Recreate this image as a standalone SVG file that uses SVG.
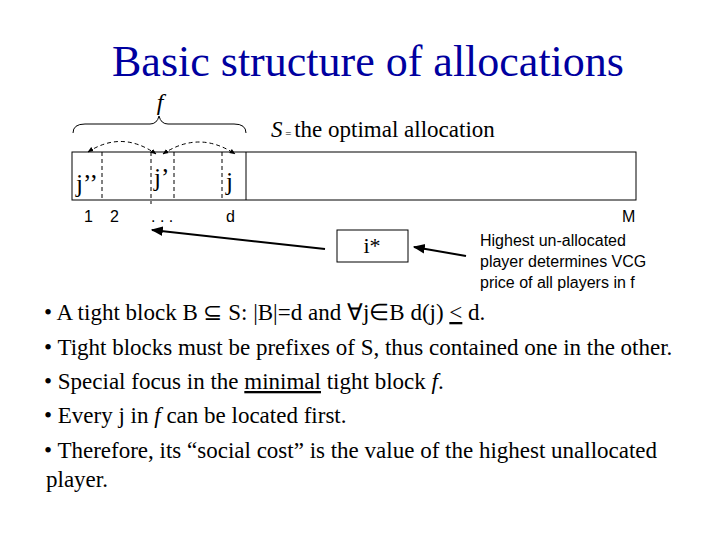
<svg xmlns="http://www.w3.org/2000/svg" width="720" height="540" viewBox="0 0 720 540">
<style>
.t{font-family:"Liberation Serif",serif;fill:#000}
.s{font-family:"Liberation Sans",sans-serif;fill:#000}
.b{font-family:"Liberation Serif",serif;font-size:23px;fill:#000}
.d{stroke:#000;stroke-width:1;stroke-dasharray:4,3;fill:none}
</style>
<defs>
<marker id="a" viewBox="0 0 10 10" refX="9" refY="5" markerWidth="6" markerHeight="6" orient="auto-start-reverse"><path d="M0,1 L10,5 L0,9 z" fill="#000"/></marker>
</defs>
<rect width="720" height="540" fill="#fff"/>
<text class="t" x="368" y="76" font-size="44" style="fill:#0000a0" text-anchor="middle">Basic structure of allocations</text>
<g id="brace"><path d="M73,133 Q73,124 85,124 L150,124 Q157,124 159,116 Q161,124 168,124 L234,124 Q246,124 246,133" fill="none" stroke="#000"/>
<text class="t" x="160" y="110" font-size="24" font-style="italic" text-anchor="middle">f</text></g>
<text class="t" x="271" y="137" font-size="23"><tspan font-style="italic">S</tspan><tspan font-size="11"> = </tspan>the optimal allocation</text>
<g id="strip">
<rect x="72" y="152" width="564" height="48" fill="none" stroke="#000"/>
<line x1="246" y1="152" x2="246" y2="200" stroke="#000"/>
<line class="d" x1="102" y1="152" x2="102" y2="200"/>
<line class="d" x1="151" y1="152" x2="151" y2="204"/>
<line class="d" x1="174" y1="152" x2="174" y2="200"/>
<line class="d" x1="222" y1="152" x2="222" y2="200"/>
<text class="t" x="76" y="192" font-size="25">j’’</text>
<text class="t" x="154" y="186" font-size="25">j’</text>
<text class="t" x="226" y="190" font-size="25">j</text>
</g>
<g id="connectors">
<path class="d" stroke-width="2.5" d="M88,152 Q122,130 156,154" marker-start="url(#a)" marker-end="url(#a)"/>
<path class="d" stroke-width="2.5" d="M163,154 Q199,130 235,154" marker-start="url(#a)" marker-end="url(#a)"/>
<line x1="325" y1="249" x2="152" y2="230" stroke="#000" stroke-width="2" marker-end="url(#a)"/>
<line x1="466" y1="256" x2="414" y2="247" stroke="#000" stroke-width="2" marker-end="url(#a)"/>
</g>
<g class="s" font-size="16">
<text x="84" y="222">1</text><text x="110" y="222">2</text>
<text x="151" y="222">.   .   .</text><text x="226" y="222">d</text>
<text x="622" y="222">M</text>
</g>
<g id="istar"><rect x="337" y="230" width="71" height="32" fill="none" stroke="#000"/>
<text class="t" x="372" y="253" font-size="22" text-anchor="middle">i*</text></g>
<g class="s" font-size="16">
<text x="480" y="246">Highest un-allocated</text>
<text x="480" y="267">player determines VCG</text>
<text x="480" y="288">price of all players in f</text>
</g>
<g class="b">
<text x="44" y="320">• A tight block B ⊆ S: |B|=d and ∀j∈B d(j) <tspan text-decoration="underline">&lt;</tspan> d.</text>
<text x="44" y="355">• Tight blocks must be prefixes of S, thus contained one in the other.</text>
<text x="44" y="389">• Special focus in the <tspan text-decoration="underline">minimal</tspan> tight block <tspan font-style="italic">f</tspan>.</text>
<text x="44" y="423">• Every j in <tspan font-style="italic">f</tspan> can be located first.</text>
<text x="44" y="458">• Therefore, its “social cost” is the value of the highest unallocated</text>
<text x="46" y="487">player.</text>
</g>
</svg>
